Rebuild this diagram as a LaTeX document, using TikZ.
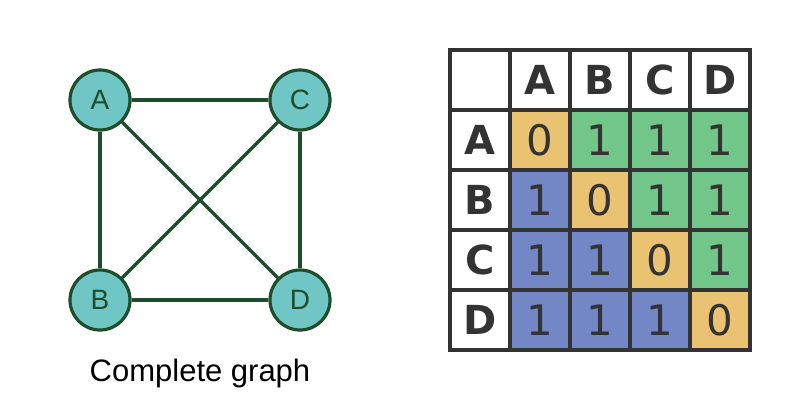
\documentclass[tikz,border=0pt]{standalone}
\usepackage{fontspec}
\setmainfont{Liberation Sans}
\newfontfamily\dejavu{DejaVu Sans}
\definecolor{nodefill}{HTML}{70C6C4}
\definecolor{darkgr}{HTML}{1E4D2B}
\definecolor{gridc}{HTML}{333333}
\definecolor{orangec}{HTML}{E9C372}
\definecolor{greenc}{HTML}{72C68A}
\definecolor{bluec}{HTML}{7386C6}
\begin{document}
\begin{tikzpicture}[x=1pt,y=-1pt,
  vert/.style={circle,draw=darkgr,line width=3.2pt,fill=nodefill,minimum size=60pt,inner sep=0pt,text=darkgr,font=\fontsize{28}{28}\selectfont},
  edge/.style={draw=darkgr,line width=3.2pt},
  cellbox/.style={minimum size=60pt,inner sep=0pt,draw=gridc,line width=4pt,text=gridc},
  hdr/.style={cellbox,fill=white,font=\dejavu\bfseries\fontsize{40}{40}\selectfont},
  num/.style={cellbox,font=\dejavu\fontsize{42}{42}\selectfont},
  diag/.style={num,fill=orangec},
  up/.style={num,fill=greenc},
  low/.style={num,fill=bluec}]
\useasboundingbox (0,0) rectangle (800,400);
\fill[white] (0,0) rectangle (800,400);
% graph
\node[vert] (A) at (100,100) {A};
\node[vert] (C) at (300,100) {C};
\node[vert] (B) at (100,300) {B};
\node[vert] (D) at (300,300) {D};
\path[edge] (A) -- (C);
\path[edge] (A) -- (B);
\path[edge] (A) -- (D);
\path[edge] (C) -- (B);
\path[edge] (C) -- (D);
\path[edge] (B) -- (D);
\node[text=black,font=\fontsize{31}{31}\selectfont,anchor=base] (cap) at (200,381) {Complete graph};
% matrix
\node[hdr] (h0) at (480,80) {};
\node[hdr] (hA) at (540,80) {A};
\node[hdr] (hB) at (600,80) {B};
\node[hdr] (hC) at (660,80) {C};
\node[hdr] (hD) at (720,80) {D};
\node[hdr] (rA) at (480,140) {A};
\node[hdr] (rB) at (480,200) {B};
\node[hdr] (rC) at (480,260) {C};
\node[hdr] (rD) at (480,320) {D};
\node[diag] (aa) at (540,140) {0};
\node[up] (ab) at (600,140) {1};
\node[up] (ac) at (660,140) {1};
\node[up] (ad) at (720,140) {1};
\node[low] (ba) at (540,200) {1};
\node[diag] (bb) at (600,200) {0};
\node[up] (bc) at (660,200) {1};
\node[up] (bd) at (720,200) {1};
\node[low] (ca) at (540,260) {1};
\node[low] (cb) at (600,260) {1};
\node[diag] (cc) at (660,260) {0};
\node[up] (cd) at (720,260) {1};
\node[low] (da) at (540,320) {1};
\node[low] (db) at (600,320) {1};
\node[low] (dc) at (660,320) {1};
\node[diag] (dd) at (720,320) {0};
\end{tikzpicture}
\end{document}
